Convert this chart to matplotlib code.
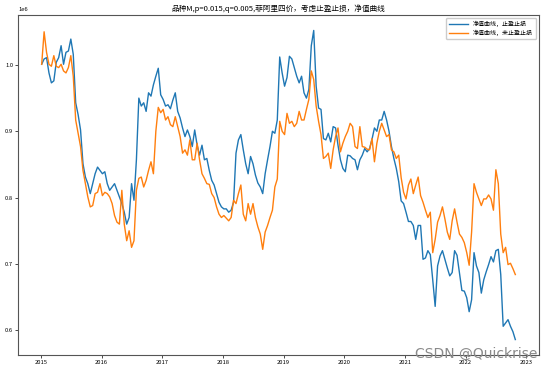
import matplotlib
matplotlib.use('Agg')
import matplotlib.pyplot as plt
import pandas as pd

plt.rcParams['font.family'] = ['Noto Sans CJK SC', 'DejaVu Sans']
plt.rcParams['axes.unicode_minus'] = False

# net value curve with stop profit / stop loss (x1e6)
stop_vals = [
    1.001, 1.009, 1.011, 0.988, 0.973, 0.976, 1.004, 1.011, 1.029, 1.001,
    1.019, 1.021, 1.039, 1.016, 0.943, 0.925, 0.902, 0.851, 0.831, 0.821,
    0.806, 0.821, 0.836, 0.846, 0.841, 0.836, 0.839, 0.821, 0.811, 0.816,
    0.821, 0.811, 0.801, 0.791, 0.778, 0.760, 0.770, 0.821, 0.796, 0.857,
    0.950, 0.938, 0.943, 0.930, 0.958, 0.953, 0.970, 0.983, 0.995, 0.955,
    0.948, 0.938, 0.940, 0.934, 0.947, 0.958, 0.930, 0.920, 0.905, 0.892,
    0.902, 0.892, 0.877, 0.902, 0.879, 0.864, 0.879, 0.857, 0.859, 0.841,
    0.826, 0.819, 0.806, 0.793, 0.786, 0.783, 0.783, 0.778, 0.781, 0.793,
    0.867, 0.887, 0.895, 0.872, 0.851, 0.836, 0.862, 0.851, 0.834, 0.822,
    0.816, 0.806, 0.836, 0.857, 0.877, 0.900, 0.897, 0.917, 1.012, 0.988,
    0.968, 0.981, 1.013, 1.009, 0.996, 0.983, 0.973, 0.983, 0.958, 0.950,
    0.963, 1.029, 1.052, 0.968, 0.935, 0.933, 0.889, 0.887, 0.897, 0.884,
    0.907, 0.905, 0.879, 0.857, 0.844, 0.839, 0.864, 0.863, 0.859, 0.857,
    0.842, 0.857, 0.864, 0.874, 0.869, 0.874, 0.888, 0.905, 0.900, 0.917,
    0.917, 0.930, 0.917, 0.900, 0.877, 0.859, 0.844, 0.824, 0.795, 0.791,
    0.778, 0.764, 0.764, 0.758, 0.737, 0.758, 0.758, 0.707, 0.709, 0.720,
    0.714, 0.676, 0.636, 0.697, 0.712, 0.720, 0.707, 0.694, 0.682, 0.687,
    0.720, 0.713, 0.687, 0.660, 0.659, 0.649, 0.628, 0.646, 0.717, 0.697,
    0.687, 0.656, 0.676, 0.688, 0.699, 0.711, 0.703, 0.720, 0.722, 0.684,
    0.606, 0.611, 0.616, 0.606, 0.598, 0.586,
]

# net value curve without stop profit / stop loss (x1e6)
nostop_vals = [
    1.001, 1.050, 1.019, 1.001, 0.998, 1.014, 0.998, 0.996, 1.001, 0.991,
    0.988, 0.996, 1.014, 0.983, 0.917, 0.897, 0.877, 0.841, 0.821, 0.801,
    0.786, 0.788, 0.806, 0.808, 0.821, 0.803, 0.808, 0.806, 0.801, 0.791,
    0.773, 0.763, 0.760, 0.811, 0.760, 0.735, 0.750, 0.725, 0.735, 0.811,
    0.829, 0.831, 0.816, 0.826, 0.841, 0.854, 0.836, 0.900, 0.936, 0.928,
    0.933, 0.917, 0.922, 0.910, 0.907, 0.922, 0.907, 0.892, 0.867, 0.872,
    0.864, 0.887, 0.857, 0.857, 0.882, 0.857, 0.836, 0.829, 0.821, 0.820,
    0.806, 0.800, 0.786, 0.775, 0.770, 0.773, 0.769, 0.765, 0.770, 0.796,
    0.791, 0.806, 0.819, 0.775, 0.765, 0.791, 0.775, 0.791, 0.770, 0.756,
    0.745, 0.722, 0.748, 0.758, 0.770, 0.781, 0.816, 0.828, 0.915, 0.900,
    0.895, 0.927, 0.912, 0.915, 0.907, 0.912, 0.930, 0.917, 0.917, 0.933,
    0.948, 0.991, 0.978, 0.938, 0.915, 0.895, 0.859, 0.862, 0.867, 0.844,
    0.872, 0.892, 0.905, 0.869, 0.882, 0.892, 0.900, 0.912, 0.907, 0.877,
    0.874, 0.907, 0.877, 0.876, 0.873, 0.872, 0.889, 0.854, 0.882, 0.900,
    0.912, 0.902, 0.892, 0.895, 0.872, 0.869, 0.859, 0.864, 0.830, 0.808,
    0.798, 0.819, 0.828, 0.806, 0.819, 0.831, 0.803, 0.793, 0.781, 0.770,
    0.778, 0.717, 0.737, 0.763, 0.773, 0.786, 0.768, 0.748, 0.737, 0.765,
    0.783, 0.763, 0.745, 0.740, 0.732, 0.717, 0.698, 0.748, 0.821, 0.808,
    0.798, 0.788, 0.798, 0.798, 0.804, 0.798, 0.781, 0.842, 0.821, 0.745,
    0.717, 0.725, 0.699, 0.701, 0.693, 0.684,
]

dates = pd.date_range('2015-01-05', '2022-10-28', periods=len(stop_vals))
stop = pd.Series(stop_vals, index=dates) * 1e6
nostop = pd.Series(nostop_vals, index=dates) * 1e6

fig = plt.figure(figsize=(5.43, 3.69), dpi=100)
ax = fig.add_axes([18/543, 1 - 355/369, 521/543, 340/369])

ax.plot(stop.index, stop.values, color='#1f77b4', lw=1.0, label='净值曲线，止盈止损')
ax.plot(nostop.index, nostop.values, color='#ff7f0e', lw=1.0, label='净值曲线，未止盈止损')

ax.set_title('品种M,p=0.015,q=0.005,菲阿里四价，考虑止盈止损，净值曲线', fontsize=5.5, pad=3)
ax.tick_params(labelsize=4.2, length=2, width=0.5, pad=1.5)
ax.yaxis.get_offset_text().set_fontsize(4.2)
for s in ax.spines.values():
    s.set_linewidth(0.8)
    s.set_color('#555555')
ax.legend(loc='upper right', fontsize=4.3, frameon=True, borderpad=0.5,
          labelspacing=0.4, handlelength=3.2, framealpha=1, edgecolor='#cccccc')

# watermark
fig.text(0.99, 0.022, 'CSDN @Quickrise', fontsize=10, color='#8a8a8a',
         ha='right', va='bottom', family='DejaVu Sans')

fig.savefig('out.png', dpi=100)
